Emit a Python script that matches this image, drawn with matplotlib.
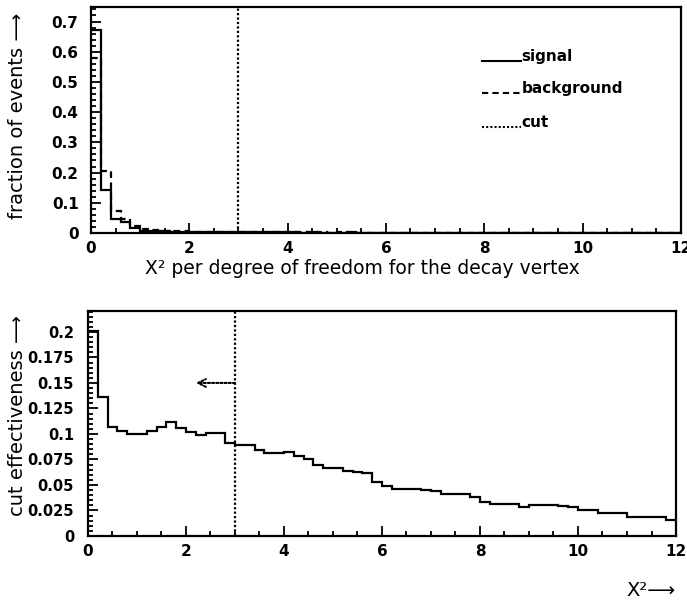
import numpy as np
import matplotlib.pyplot as plt
from matplotlib.ticker import MultipleLocator, FuncFormatter

# histogram binning: 60 bins of width 0.2 from 0 to 12
bin_edges = np.linspace(0, 12, 61)

# top panel: fraction of events per bin
signal = [0.672, 0.142, 0.045, 0.035, 0.016, 0.008, 0.006, 0.005, 0.004, 0.004,
          0.003, 0.003, 0.003, 0.002, 0.003, 0.002, 0.002, 0.002, 0.002, 0.002,
          0.002, 0.001, 0.002, 0.001, 0.001, 0.001, 0.002, 0.001, 0.001, 0.001,
          0.001, 0.001, 0.001, 0.0, 0.001, 0.0, 0.001, 0.0, 0.0, 0.0,
          0.0, 0.0, 0.0, 0.0, 0.0, 0.0, 0.0, 0.0, 0.0, 0.0,
          0.0, 0.0, 0.0, 0.0, 0.0, 0.0, 0.0, 0.0, 0.0, 0.0]
background = [0.58, 0.205, 0.074, 0.045, 0.022, 0.012, 0.009, 0.007, 0.006, 0.005,
              0.004, 0.004, 0.003, 0.003, 0.003, 0.002, 0.003, 0.002, 0.002, 0.002,
              0.002, 0.002, 0.001, 0.002, 0.001, 0.002, 0.001, 0.001, 0.001, 0.001,
              0.001, 0.0, 0.001, 0.0, 0.0, 0.001, 0.0, 0.0, 0.0, 0.0,
              0.0, 0.0, 0.0, 0.0, 0.0, 0.0, 0.0, 0.0, 0.0, 0.0,
              0.0, 0.0, 0.0, 0.0, 0.0, 0.0, 0.0, 0.0, 0.0, 0.0]

# bottom panel: cut effectiveness per bin
effectiveness = [0.201, 0.136, 0.1066, 0.1026, 0.100, 0.100, 0.1026, 0.1066, 0.1115, 0.106,
                 0.102, 0.0994, 0.101, 0.101, 0.091, 0.0895, 0.089, 0.0843, 0.081, 0.081,
                 0.082, 0.0787, 0.0755, 0.070, 0.0667, 0.0665, 0.064, 0.0624, 0.0622, 0.0525,
                 0.049, 0.0457, 0.0456, 0.0456, 0.0455, 0.0436, 0.0416, 0.0416, 0.0416, 0.038,
                 0.0335, 0.0312, 0.0312, 0.0311, 0.028, 0.0305, 0.030, 0.0305, 0.0298, 0.028,
                 0.0253, 0.0253, 0.0229, 0.0229, 0.023, 0.0187, 0.0187, 0.0186, 0.0186, 0.016]

cut_value = 3.0

legend_labels = ['signal', 'background', 'cut']
legend_styles = ['-', '--', ':']


def fmt(v, pos):
    return '%g' % round(v, 4)


def style_axes(ax, ymajor, yminor, ypad, ysize):
    ax.set_xlim(0, 12)
    ax.xaxis.set_major_locator(MultipleLocator(2))
    ax.xaxis.set_minor_locator(MultipleLocator(0.5))
    ax.yaxis.set_major_locator(MultipleLocator(ymajor))
    ax.yaxis.set_minor_locator(MultipleLocator(yminor))
    ax.yaxis.set_major_formatter(FuncFormatter(fmt))
    ax.tick_params(which='both', direction='in', top=False, right=False, width=1.3)
    ax.tick_params(which='major', length=7)
    ax.tick_params(which='minor', length=3.5)
    ax.tick_params(axis='x', pad=6)
    ax.tick_params(axis='y', pad=ypad)
    for lab in ax.get_xticklabels():
        lab.set_fontweight('bold')
        lab.set_fontsize(11)
    for lab in ax.get_yticklabels():
        lab.set_fontweight('bold')
        lab.set_fontsize(ysize)
    for sp in ax.spines.values():
        sp.set_linewidth(1.6)


plt.rcParams['font.family'] = ['DejaVu Sans']

fig = plt.figure(figsize=(6.87, 6.09), dpi=100)

# ---- top panel
ax1 = fig.add_axes([0.1325, 0.6174, 0.8585, 0.3711])
ax1.stairs(signal, bin_edges, color='k', lw=1.6, linestyle='-', baseline=None)
ax1.stairs(background, bin_edges, color='k', lw=1.6, linestyle=(0, (3, 2)), baseline=None)
ax1.axvline(cut_value, color='k', lw=1.6, linestyle=(0, (1, 1)))
ax1.set_ylim(0, 0.748)
style_axes(ax1, 0.1, 0.02, 9, 11)

# legend drawn as line + text like the original
leg_y = [0.57, 0.463, 0.352]
for lab, ls, yy in zip(legend_labels, legend_styles, leg_y):
    lst = (0, (3, 2)) if ls == '--' else ((0, (1, 1)) if ls == ':' else '-')
    ax1.plot([7.95, 8.75], [yy, yy], color='k', lw=1.5, linestyle=lst)
    ax1.text(8.76, yy, lab, fontsize=11, fontweight='bold', va='baseline', ha='left')

fig.text(0.528, 0.559, 'X² per degree of freedom for the decay vertex',
         fontsize=13.5, ha='center', va='center')
fig.text(0.026, 0.81, 'fraction of events ⟶', fontsize=14, rotation=90,
         ha='center', va='center')

# ---- bottom panel
ax2 = fig.add_axes([0.128, 0.1199, 0.856, 0.3694])
ax2.stairs(effectiveness, bin_edges, color='k', lw=1.6, baseline=None)
ax2.axvline(cut_value, color='k', lw=1.6, linestyle=(0, (1, 1)))
ax2.annotate('', xy=(2.2, 0.15), xytext=(cut_value, 0.15),
             arrowprops=dict(arrowstyle='->', linestyle=(0, (1, 1)), lw=1.5,
                             color='k', mutation_scale=14, shrinkA=0, shrinkB=0))
ax2.set_ylim(0, 0.2205)
style_axes(ax2, 0.025, 0.005, 10, 10.5)

fig.text(0.983, 0.031, 'X²⟶', fontsize=14, ha='right', va='center')
fig.text(0.026, 0.318, 'cut effectiveness ⟶', fontsize=14, rotation=90,
         ha='center', va='center')

fig.savefig('out.png', dpi=100)
